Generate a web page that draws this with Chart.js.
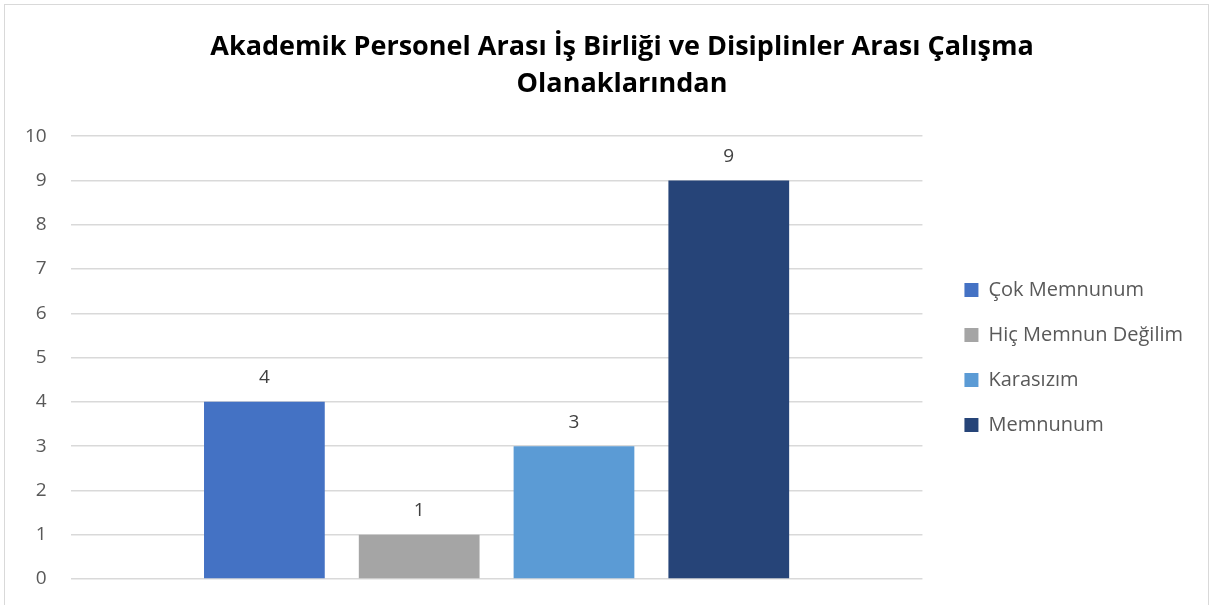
<!DOCTYPE html>
<html>
<head>
<meta charset="utf-8">
<script src="https://cdn.jsdelivr.net/npm/chart.js@4/dist/chart.umd.min.js"></script>
<style>
    body { margin: 0; background: #fff; }
    #wrap { position: relative; width: 1215px; height: 605px; }
    #frame { position: absolute; left: 4px; top: 4px; width: 1205px; height: 610px; border: 1px solid #d9d9d9; box-sizing: border-box; }
    canvas { position: absolute; left: 0; top: 0; }
</style>
</head>
<body>
<div id="wrap">
    <div id="frame"></div>
    <canvas id="barChart" width="1215" height="605"></canvas>
</div>
<script>
const titleLines = ['Akademik Personel Arası İş Birliği ve Disiplinler Arası Çalışma', 'Olanaklarından'];
const categories = [''];
const seriesNames = ['Çok Memnunum', 'Hiç Memnun Değilim', 'Karasızım', 'Memnunum'];
const seriesValues = [4, 1, 3, 9];
const seriesColors = ['#4472c4', '#a5a5a5', '#5b9bd5', '#264478'];
const yTicks = [0, 1, 2, 3, 4, 5, 6, 7, 8, 9, 10];

const fontFamily = '"Open Sans", "Noto Sans", sans-serif';
const legendGap = 17;   // extra room between plot and legend
const titleShift = 13;  // title sits a bit right of centre in the original

// draws the value above each bar
const valueLabels = {
    id: 'valueLabels',
    afterDatasetsDraw(chart) {
        const ctx = chart.ctx;
        ctx.save();
        ctx.font = '19px ' + fontFamily;
        ctx.fillStyle = '#404040';
        ctx.textAlign = 'center';
        ctx.textBaseline = 'middle';
        chart.data.datasets.forEach((ds, i) => {
            chart.getDatasetMeta(i).data.forEach((bar, j) => {
                ctx.fillText(String(ds.data[j]), bar.x, bar.y - 24);
            });
        });
        ctx.restore();
    }
};

// small layout tweaks: gap before legend, title offset
const layoutTweaks = {
    id: 'layoutTweaks',
    afterInit(chart) {
        const legend = chart.legend;
        const fit = legend.fit;
        legend.fit = function() {
            fit.call(this);
            this.width += legendGap;
        };
        const title = chart.titleBlock;
        const draw = title.draw;
        title.draw = function(area) {
            this.ctx.save();
            this.ctx.translate(titleShift, 0);
            draw.call(this, area);
            this.ctx.restore();
        };
    },
    afterLayout(chart) {
        chart.legend.left += legendGap;
    }
};

const datasets = seriesNames.map((name, i) => ({
    label: name,
    data: [seriesValues[i]],
    backgroundColor: seriesColors[i],
    borderWidth: 0
}));

new Chart(document.getElementById('barChart').getContext('2d'), {
    type: 'bar',
    data: {
        labels: categories,
        datasets: datasets
    },
    options: {
        responsive: false,
        animation: false,
        layout: {
            padding: { left: 25, right: 22, top: 0, bottom: 26 }
        },
        datasets: {
            bar: {
                categoryPercentage: 0.727,
                barPercentage: 0.78
            }
        },
        plugins: {
            title: {
                display: true,
                text: titleLines,
                color: '#000',
                font: { family: fontFamily, size: 27, weight: 'bold', lineHeight: 1.4 },
                padding: { top: 28, bottom: 32.5 }
            },
            legend: {
                position: 'right',
                fullSize: false,
                labels: {
                    color: '#595959',
                    font: { family: fontFamily, size: 20 },
                    boxWidth: 14,
                    boxHeight: 14,
                    padding: 25
                }
            },
            tooltip: { enabled: false }
        },
        scales: {
            x: {
                display: false
            },
            y: {
                min: 0,
                max: 10,
                afterBuildTicks: axis => { axis.ticks = yTicks.map(v => ({ value: v })); },
                grid: { color: '#d9d9d9', lineWidth: 1.5, drawTicks: true, tickLength: 24, tickColor: 'rgba(0,0,0,0)' },
                border: { display: false },
                ticks: {
                    color: '#595959',
                    font: { family: fontFamily, size: 19 },
                    padding: 0
                }
            }
        }
    },
    plugins: [valueLabels, layoutTweaks]
});
</script>
</body>
</html>
